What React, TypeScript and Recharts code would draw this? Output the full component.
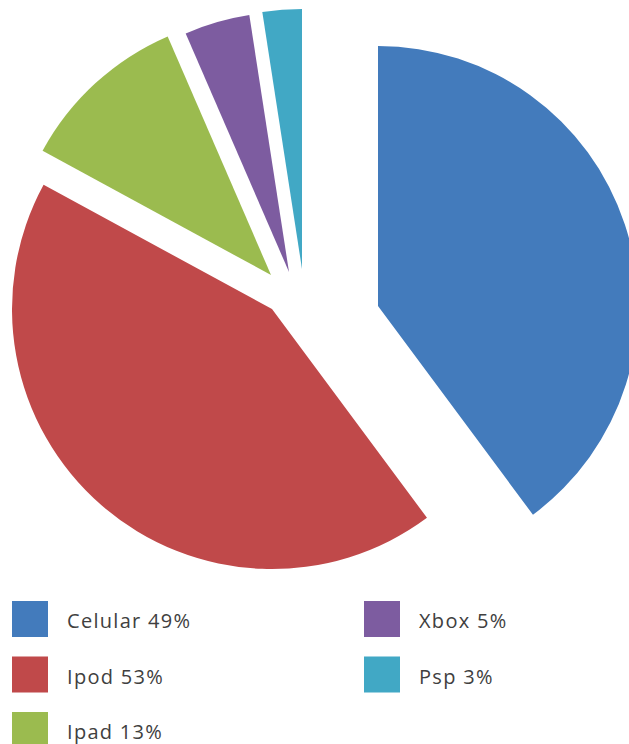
import React from 'react';
import { PieChart, Pie, Sector, Legend } from 'recharts';

const CATEGORIES = ['Celular', 'Ipod', 'Ipad', 'Xbox', 'Psp'];
const VALUES = [49, 53, 13, 5, 3];
const LEGEND_LABELS = ['Celular 49%', 'Ipod 53%', 'Ipad 13%', 'Xbox 5%', 'Psp 3%'];

const COLORS = ['#437BBC', '#C0494A', '#9BBB4F', '#7D5CA0', '#41A8C5'];
// explode offsets per slice (style)
const EXPLODE: [number, number][] = [
  [106, -3],
  [0, 0],
  [-1, -34],
  [17, -37],
  [30, -40],
];

const data = CATEGORIES.map((name, i) => ({ name, value: VALUES[i] }));

const W = 629;
const H = 744;

const renderSlice = (props: any) => {
  const { cx, cy, outerRadius, startAngle, endAngle, index } = props;
  const [dx, dy] = EXPLODE[index] || [0, 0];
  return (
    <Sector
      cx={cx + dx}
      cy={cy + dy}
      innerRadius={0}
      outerRadius={outerRadius}
      startAngle={startAngle}
      endAngle={endAngle}
      fill={COLORS[index]}
      stroke="none"
    />
  );
};

const LegendContent = () => (
  <svg width={W} height={154} style={{ display: 'block' }}>
    {CATEGORIES.map((c, i) => {
      const col = Math.floor(i / 3);
      const row = i % 3;
      const x = 12 + col * 352;
      const y = 11 + row * 55.5;
      return (
        <g key={c}>
          <rect x={x} y={y} width={36} height={36} fill={COLORS[i]} />
          <text
            x={x + 55}
            y={y + 27}
            fontFamily="'Open Sans', Lato, sans-serif"
            fontSize={20}
            fontWeight={400}
            letterSpacing={1.3}
            fill="#404040"
          >
            {LEGEND_LABELS[i]}
          </text>
        </g>
      );
    })}
  </svg>
);

export default function App() {
  return (
    <div
      style={{
        position: 'absolute',
        left: 0,
        top: 0,
        width: W,
        height: H,
        overflow: 'hidden',
        background: '#fff',
      }}
    >
      <PieChart width={W} height={H} margin={{ top: 0, right: 0, bottom: 0, left: 0 }}>
        <Pie
          data={data}
          dataKey="value"
          nameKey="name"
          cx={272}
          cy={309}
          innerRadius={0}
          outerRadius={260}
          startAngle={90}
          endAngle={-270}
          fill="none"
          stroke="none"
          label={renderSlice}
          labelLine={false}
          isAnimationActive={false}
        />
        <Legend
          content={<LegendContent />}
          wrapperStyle={{ position: 'absolute', left: 0, top: 590, bottom: 'auto', width: W, height: 154 }}
        />
      </PieChart>
    </div>
  );
}
